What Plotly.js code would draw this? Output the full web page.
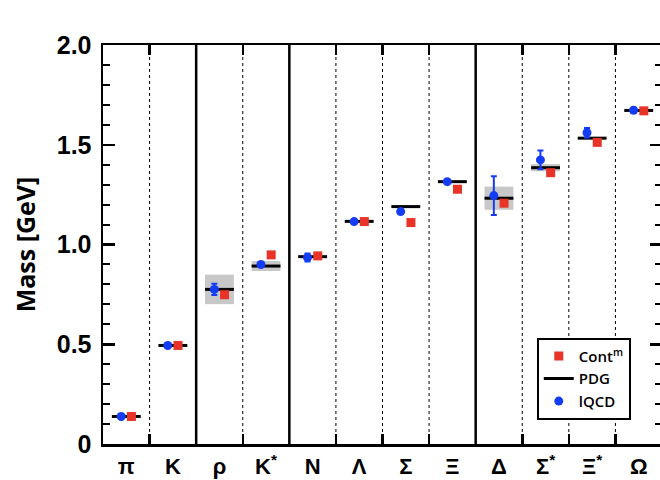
<!DOCTYPE html>
<html>
<head>
<meta charset="utf-8">
<script src="https://cdn.plot.ly/plotly-3.0.1.min.js"></script>
<style>html,body{margin:0;padding:0;overflow:hidden;background:#fff;}</style>
</head>
<body>
<div id="chart" style="width:662px;height:480px;"></div>
<script>
// Data
const categories = ['π', 'K', 'ρ', 'K<sup>*</sup>', 'N', 'Λ', 'Σ', 'Ξ', 'Δ', 'Σ<sup>*</sup>', 'Ξ<sup>*</sup>', 'Ω'];
const pdgMass   = [0.138, 0.494, 0.775, 0.892, 0.939, 1.116, 1.190, 1.315, 1.232, 1.385, 1.533, 1.672];
const pdgHalfWidth = [0, 0, 0.074, 0.025, 0, 0, 0, 0, 0.058, 0.018, 0, 0];
const lqcdMass  = [0.138, 0.494, 0.775, 0.900, 0.935, 1.115, 1.165, 1.315, 1.245, 1.424, 1.560, 1.673];
const lqcdErr   = [0, 0, 0.028, 0, 0.020, 0.008, 0.012, 0, 0.097, 0.047, 0.024, 0.012];
const contMass  = [0.138, 0.494, 0.748, 0.948, 0.943, 1.115, 1.110, 1.277, 1.207, 1.360, 1.512, 1.670];
const yTickVals = [0, 0.5, 1.0, 1.5, 2.0];
const yTickText = ['0', '0.5', '1.0', '1.5', '2.0'];
const solidBoundaries = [1.5, 3.5, 7.5];
const dottedBoundaries = [0.5, 2.5, 4.5, 5.5, 6.5, 8.5, 9.5, 10.5];

const idx = categories.map((_, i) => i);
const halfLine = 0.31;
const off = 0.11;

// PDG segments
const pdgX = [], pdgY = [];
idx.forEach(i => { pdgX.push(i - halfLine, i + halfLine, null); pdgY.push(pdgMass[i], pdgMass[i], null); });

// Width bands (only where width > 0)
const bandX = [], bandBase = [], bandH = [];
idx.forEach(i => { if (pdgHalfWidth[i] > 0) { bandX.push(i); bandBase.push(pdgMass[i] - pdgHalfWidth[i]); bandH.push(2 * pdgHalfWidth[i]); } });

const traces = [
  { type: 'bar', x: bandX, y: bandH, base: bandBase, width: 2 * halfLine,
    marker: { color: 'rgb(200,200,200)', line: { width: 0 } }, showlegend: false, hoverinfo: 'skip' },
  { type: 'scatter', mode: 'lines', name: 'PDG', x: pdgX, y: pdgY, legendrank: 2,
    line: { color: 'black', width: 3 } },
  { type: 'scatter', mode: 'markers', name: 'Cont<sup>m</sup>', x: idx.map(i => i + off), y: contMass, legendrank: 1,
    marker: { symbol: 'square', size: 9, color: 'rgb(232,52,40)' } },
  { type: 'scatter', mode: 'markers', name: 'lQCD', x: idx.map(i => i - off), y: lqcdMass, legendrank: 3,
    marker: { symbol: 'circle', size: 9, color: 'rgb(20,60,245)' },
    error_y: { type: 'data', array: lqcdErr, visible: true, color: 'rgb(20,60,245)', thickness: 2, width: 3 } },
  // invisible trace on xaxis2 to activate boundary tick axis
  { type: 'scatter', mode: 'markers', x: [0], y: [0], xaxis: 'x2', marker: { opacity: 0 }, showlegend: false, hoverinfo: 'skip' }
];

const shapes = [];
solidBoundaries.forEach(b => shapes.push({ type: 'line', xref: 'x', yref: 'paper', x0: b, x1: b, y0: 0, y1: 1, line: { color: 'black', width: 2.5 } }));
dottedBoundaries.forEach(b => shapes.push({ type: 'line', xref: 'x', yref: 'paper', x0: b, x1: b, y0: 0, y1: 1, line: { color: 'black', width: 1, dash: 'dot' }, layer: 'below' }));

const layout = {
  width: 662, height: 480,
  margin: { l: 103, r: 0, t: 45, b: 36 },
  paper_bgcolor: 'white', plot_bgcolor: 'white',
  showlegend: true,
  barmode: 'overlay',
  xaxis: {
    range: [-0.5, 11.5], tickvals: idx, ticktext: categories, ticks: '',
    showline: true, linecolor: 'black', linewidth: 2.5, mirror: true,
    showgrid: false, zeroline: false, ticklabelstandoff: 1,
    tickfont: { family: 'Liberation Sans', size: 22, color: 'black', weight: 'bold' }
  },
  xaxis2: {
    overlaying: 'x', matches: 'x', range: [-0.5, 11.5], tickvals: dottedBoundaries,
    ticks: 'inside', ticklen: 10, tickwidth: 2.5, tickcolor: 'black', mirror: 'ticks',
    showticklabels: false, showgrid: false, zeroline: false, showline: false, anchor: 'y'
  },
  yaxis: {
    range: [0, 2.0], tickvals: yTickVals, ticktext: yTickText,
    ticks: 'inside', ticklen: 12, tickwidth: 2.5, tickcolor: 'black',
    minor: { dtick: 0.1, ticks: 'inside', ticklen: 7, tickwidth: 2, tickcolor: 'black', showgrid: false },
    showline: true, linecolor: 'black', linewidth: 2.5, mirror: 'ticks',
    showgrid: false, zeroline: false, ticklabelstandoff: 4,
    tickfont: { family: 'Liberation Sans', size: 25, color: 'black', weight: 'bold' },
    title: { text: 'Mass [GeV]', font: { family: 'Open Sans', size: 25, color: 'black', weight: 'bold' }, standoff: 14 }
  },
  legend: {
    x: 0.776, y: 0.266, xanchor: 'left', yanchor: 'top',
    bordercolor: 'black', borderwidth: 2, bgcolor: 'white',
    font: { family: 'Open Sans', size: 15, color: 'black', weight: 600 },
    traceorder: 'normal'
  },
  shapes: shapes
};

Plotly.newPlot('chart', traces, layout, { displayModeBar: false, staticPlot: true });
</script>
</body>
</html>
